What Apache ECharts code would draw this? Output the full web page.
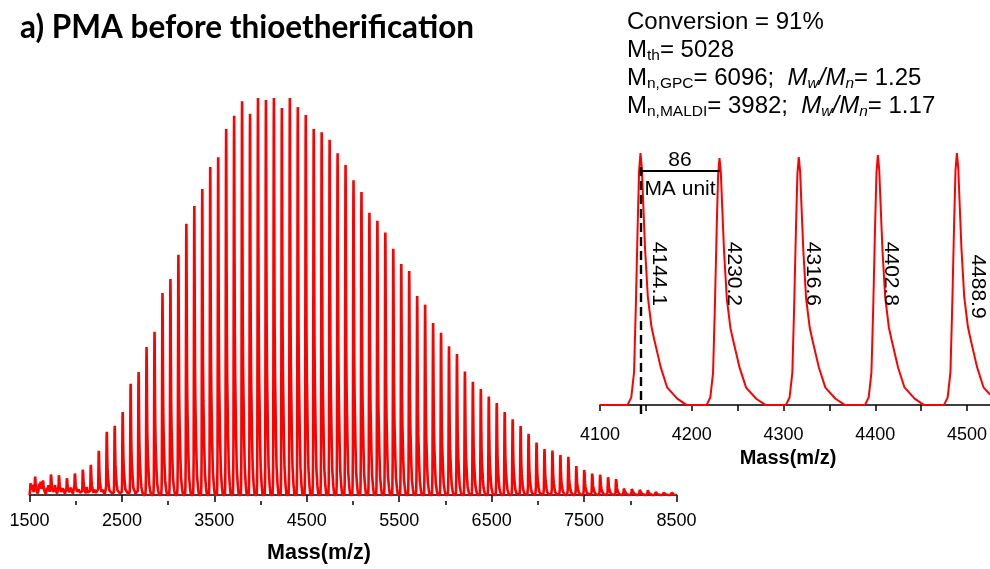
<!DOCTYPE html>
<html>
<head>
<meta charset="utf-8">
<script src="https://cdn.jsdelivr.net/npm/echarts@6/dist/echarts.min.js"></script>
<style>
  html, body { margin: 0; padding: 0; background: #fff; }
  #chart { width: 990px; height: 569px; }
</style>
</head>
<body>
<div id="chart"></div>
<script>
// PMA MALDI-TOF spectrum: apex m/z of each chain length and its relative intensity (%)
const peakMass = [
  1561.1, 1647.2, 1733.3, 1819.4, 1905.5, 1991.6, 2077.7, 2163.8, 2249.9, 2336.0,
  2422.1, 2508.2, 2594.3, 2680.4, 2766.5, 2852.6, 2938.7, 3024.8, 3110.9, 3197.0,
  3283.1, 3369.2, 3455.3, 3541.4, 3627.5, 3713.6, 3799.7, 3885.8, 3971.9, 4058.0,
  4144.1, 4230.2, 4316.6, 4402.8, 4488.9, 4575.0, 4661.1, 4747.2, 4833.3, 4919.4,
  5005.5, 5091.6, 5177.7, 5263.8, 5349.9, 5436.0, 5522.1, 5608.2, 5694.3, 5780.4,
  5866.5, 5952.6, 6038.7, 6124.8, 6210.9, 6297.0, 6383.1, 6469.2, 6555.3, 6641.4,
  6727.5, 6813.6, 6899.7, 6985.8, 7071.9, 7158.0, 7244.1, 7330.2, 7416.3, 7502.4,
  7588.5, 7674.6, 7760.7, 7846.8, 7932.9, 8019.0, 8105.1, 8191.2, 8277.3, 8363.4,
  8449.5
];
const peakIntensity = [
  4.5, 3.5, 5.3, 5.3, 4.5, 5.8, 6.8, 7.6, 11.1, 15.9,
  17.4, 20.9, 28.0, 31.0, 37.3, 41.1, 50.9, 54.4, 60.5, 68.3,
  72.8, 77.1, 82.6, 85.1, 92.2, 95.5, 99.2, 96.0, 100, 99.5,
  100, 97.5, 100, 97.7, 95.7, 92.2, 91.4, 89.5, 86.1, 83.1,
  79.3, 76.3, 71.1, 69.1, 66.1, 62.0, 58.2, 56.4, 50.1, 47.9,
  43.3, 40.9, 37.5, 35.5, 31.1, 28.5, 26.7, 24.8, 23.2, 20.9,
  19.1, 17.4, 15.4, 13.2, 11.6, 11.2, 10.1, 9.6, 7.3, 6.8,
  5.8, 5.5, 4.8, 4.3, 2.3, 2.1, 1.8, 1.3, 1.0, 0.8,
  0.6
];
// weak background signals in the low-mass region
const bgMass = [1512, 1530, 1603, 1622, 1690, 1706, 1777, 1862, 1948, 2035, 2121, 2207, 2293, 2380, 2466, 2552, 2638];
const bgIntensity = [3.2, 2.4, 2.8, 3.0, 2.4, 2.0, 2.6, 2.2, 2.4, 1.9, 2.0, 1.7, 1.5, 1.3, 1.2, 1.0, 0.8];

// expanded view 4100-4525 m/z
const zoomMass = [4144.1, 4230.2, 4316.6, 4402.8, 4488.9];
const zoomIntensity = [100, 98.0, 98.4, 99.2, 100];

// peak profile shape: offset from apex (Da) and fraction of apex height
const profileOffset = [-14, -10, -7, -5, -3, -1.5, 0, 1.5, 3, 5, 8, 12, 15, 22, 29, 40, 50];
const profileLevel  = [0, 0.03, 0.13, 0.40, 0.72, 0.93, 1, 0.94, 0.80, 0.62, 0.43, 0.31, 0.26, 0.15, 0.07, 0.025, 0];

// axis ticks
const mainTicks = [1500, 2500, 3500, 4500, 5500, 6500, 7500, 8500];
const mainMinorTicks = [2000, 3000, 4000, 5000, 6000, 7000, 8000];
const zoomTicks = [4100, 4200, 4300, 4400, 4500];
const zoomAllTicks = [4100, 4150, 4200, 4250, 4300, 4350, 4400, 4450, 4500];

// sample characteristics
const conversion = 91;
const mTheory = 5028;
const mnGpc = 6096, dispersityGpc = 1.25;
const mnMaldi = 3982, dispersityMaldi = 1.17;

const FONT = 'Arial, "Liberation Sans", sans-serif';
const RED = '#ff0000';

function profileAt(d) {
  const n = profileOffset.length;
  if (d <= profileOffset[0] || d >= profileOffset[n - 1]) return 0;
  for (let i = 0; i < n - 1; i++) {
    const a = profileOffset[i], b = profileOffset[i + 1];
    if (d >= a && d <= b) {
      const t = (d - a) / (b - a);
      return profileLevel[i] + t * (profileLevel[i + 1] - profileLevel[i]);
    }
  }
  return 0;
}

// builds the spectrum trace from a peak list
function buildTrace(masses, heights, lo, hi) {
  const xs = new Set([lo, hi]);
  masses.forEach(m => profileOffset.forEach(o => {
    const x = Math.round((m + o) * 100) / 100;
    if (x >= lo && x <= hi) xs.add(x);
  }));
  return Array.from(xs).sort((a, b) => a - b).map(x => {
    let y = 0;
    masses.forEach((m, i) => { y += heights[i] * profileAt(x - m); });
    return [x, y];
  });
}

const mainTrace = buildTrace(peakMass.concat(bgMass), peakIntensity.concat(bgIntensity), 1500, 8500);
const zoomTrace = buildTrace(zoomMass, zoomIntensity, 4100, 4525);

// placement of the rotated peak labels in the expanded view
const labelLevel = [52, 52, 52, 52, 47];
const labelShift = [18, 14, 14, 13, 21];

const statsText = [
  '{t|Conversion = ' + conversion + '%}',
  '{t|M}{s|th}{t|= ' + mTheory + '}',
  '{t|M}{s|n,GPC}{t|= ' + mnGpc + ';  }{i|M}{si|w}{i|/M}{si|n}{t|= ' + dispersityGpc.toFixed(2) + '}',
  '{t|M}{s|n,MALDI}{t|= ' + mnMaldi + ';  }{i|M}{si|w}{i|/M}{si|n}{t|= ' + dispersityMaldi.toFixed(2) + '}'
].join('\n');

const chart = echarts.init(document.getElementById('chart'), null, { renderer: 'canvas' });

const plainNumber = v => String(v);

const option = {
  animation: false,
  backgroundColor: '#fff',
  grid: [
    { left: 29.5, right: 313.5, top: 98, bottom: 68, containLabel: false, outerBoundsMode: 'none' },
    { left: 600, right: 0, top: 153, bottom: 155, containLabel: false, outerBoundsMode: 'none' }
  ],
  xAxis: [
    {
      type: 'value', gridIndex: 0, min: 1500, max: 8500,
      splitLine: { show: false },
      axisLine: { show: true, lineStyle: { color: '#000', width: 1.5 } },
      axisTick: { show: true, customValues: mainTicks, length: 7, inside: false, lineStyle: { color: '#000', width: 1.5 } },
      axisLabel: { show: true, customValues: mainTicks, formatter: plainNumber, color: '#000', fontSize: 18, fontFamily: FONT, margin: 11 }
    },
    {
      type: 'value', gridIndex: 0, min: 1500, max: 8500, position: 'bottom',
      splitLine: { show: false },
      axisLine: { show: false },
      axisTick: { show: true, customValues: mainMinorTicks, length: 4, lineStyle: { color: '#000', width: 1.5 } },
      axisLabel: { show: false }
    },
    {
      type: 'value', gridIndex: 1, min: 4100, max: 4525,
      splitLine: { show: false },
      axisLine: { show: true, lineStyle: { color: '#000', width: 1.5 } },
      axisTick: { show: true, customValues: zoomAllTicks, length: 6, lineStyle: { color: '#000', width: 1.5 } },
      axisLabel: { show: true, customValues: zoomTicks, formatter: plainNumber, color: '#000', fontSize: 18, fontFamily: FONT, margin: 12 }
    }
  ],
  yAxis: [
    { type: 'value', gridIndex: 0, min: -1.5, max: 100, show: false, splitLine: { show: false } },
    { type: 'value', gridIndex: 1, min: -3.6, max: 100, show: false, splitLine: { show: false } }
  ],
  series: [
    {
      type: 'line', xAxisIndex: 0, yAxisIndex: 0, data: mainTrace,
      showSymbol: false, symbol: 'none', smooth: false,
      lineStyle: { color: RED, width: 2.6 }, silent: true
    },
    {
      type: 'line', xAxisIndex: 2, yAxisIndex: 1, data: zoomTrace,
      showSymbol: false, symbol: 'none', smooth: false,
      lineStyle: { color: RED, width: 2 }, silent: true,
      markLine: {
        silent: true, symbol: ['none', 'none'], animation: false, z: 10,
        lineStyle: { color: '#000', width: 2, opacity: 1 },
        data: [
          [
            { coord: [zoomMass[0], -3.6], lineStyle: { color: '#000', width: 2.4, type: [9, 5], opacity: 1 }, label: { show: false } },
            { coord: [zoomMass[0], 95] }
          ],
          [
            { coord: [zoomMass[0], 93], lineStyle: { color: '#000', width: 2, type: 'solid' },
              label: { show: true, position: 'insideMiddleTop', distance: 0, formatter: String(Math.round(zoomMass[1] - zoomMass[0])),
                       color: '#000', fontSize: 21, fontFamily: FONT } },
            { coord: [zoomMass[1], 93] }
          ],
          [
            { coord: [zoomMass[0], 93], lineStyle: { color: '#000', width: 2, type: 'solid' },
              label: { show: true, position: 'insideMiddleBottom', distance: 8, formatter: 'MA unit',
                       color: '#000', fontSize: 21, fontFamily: FONT } },
            { coord: [zoomMass[1], 93] }
          ]
        ]
      }
    },
    {
      type: 'scatter', xAxisIndex: 2, yAxisIndex: 1, symbolSize: 0, silent: true, z: 5,
      itemStyle: { opacity: 1 },
      data: zoomMass.map((m, i) => ({
        value: [m, labelLevel[i]],
        label: { offset: [0, -labelShift[i]] }
      })),
      label: {
        show: true, position: 'inside', rotate: -90, opacity: 1,
        formatter: p => p.value[0].toFixed(1),
        color: '#000', fontSize: 21, fontFamily: FONT
      }
    }
  ],
  graphic: [
    {
      type: 'text', left: 20, top: 12, silent: true,
      style: { text: 'a) PMA before thioetherification', fill: '#000',
               font: 'bold 31.5px Lato, "Open Sans", sans-serif' }
    },
    {
      type: 'text', x: 627, y: 8, silent: true,
      style: {
        text: statsText, fill: '#000',
        rich: {
          t:  { fontSize: 24, lineHeight: 28, fontFamily: FONT, fill: '#000' },
          i:  { fontSize: 24, lineHeight: 28, fontFamily: FONT, fontStyle: 'italic', fill: '#000' },
          s:  { fontSize: 15.5, lineHeight: 14, fontFamily: FONT, verticalAlign: 'bottom', fill: '#000' },
          si: { fontSize: 15.5, lineHeight: 14, fontFamily: FONT, fontStyle: 'italic', verticalAlign: 'bottom', fill: '#000' }
        }
      }
    },
    {
      type: 'text', x: 319, y: 553, silent: true,
      style: { text: 'Mass(m/z)', fill: '#000', font: 'bold 21.5px ' + FONT, align: 'center', verticalAlign: 'middle' }
    },
    {
      type: 'text', x: 788, y: 458, silent: true,
      style: { text: 'Mass(m/z)', fill: '#000', font: 'bold 20px ' + FONT, align: 'center', verticalAlign: 'middle' }
    }
  ]
};

chart.setOption(option);
</script>
</body>
</html>
